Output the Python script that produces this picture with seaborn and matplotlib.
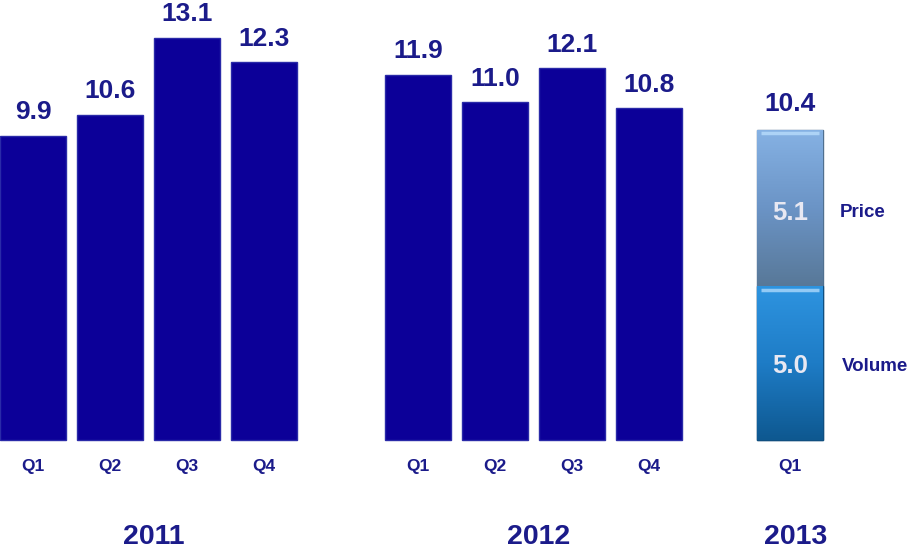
import numpy as np
import pandas as pd
import matplotlib
matplotlib.use('Agg')
import matplotlib.pyplot as plt
from matplotlib.colors import LinearSegmentedColormap
import seaborn as sns

# data
years = ['2011', '2012', '2013']
quarters = ['Q1', 'Q2', 'Q3', 'Q4']
sales_2011 = [9.9, 10.6, 13.1, 12.3]
sales_2012 = [11.9, 11.0, 12.1, 10.8]
q1_2013_volume = 5.0
q1_2013_price = 5.1
q1_2013_total_label = 10.4

# positions on the x axis (layout only)
pos_2011 = [0, 1, 2, 3]
pos_2012 = [5, 6, 7, 8]
pos_2013 = [9.83]

BAR = '#0C0098'
TXT = '#1B1B8A'

sns.set_theme(style='white')
plt.rcParams['font.family'] = ['Liberation Sans', 'DejaVu Sans']

fig = plt.figure(figsize=(9.13, 5.52), dpi=100)
ax = fig.add_axes([0, 0, 1, 1])

df = pd.DataFrame({
    'pos': pos_2011 + pos_2012,
    'value': sales_2011 + sales_2012,
    'quarter': quarters + quarters,
})
sns.barplot(data=df, x='pos', y='value', native_scale=True, width=0.85,
            color=BAR, saturation=1, edgecolor='#2A2AA8', linewidth=1, ax=ax)

# 2013 stacked bar: total first, volume drawn over it
top13 = q1_2013_volume + q1_2013_price
df13 = pd.DataFrame({'pos': pos_2013, 'total': [top13], 'volume': [q1_2013_volume]})
n_before = len(ax.patches)
sns.barplot(data=df13, x='pos', y='total', native_scale=True, width=0.85,
            color='#6B94C6', saturation=1, edgecolor='#50708F', linewidth=1, ax=ax)
sns.barplot(data=df13, x='pos', y='volume', native_scale=True, width=0.85,
            color='#1E7CC6', saturation=1, edgecolor='#0F4F80', linewidth=1, ax=ax)
price_patch, vol_patch = ax.patches[n_before], ax.patches[n_before + 1]

# gradient fill for the 2013 segments
grads = [
    (price_patch, ['#587898', '#6B94C6', '#86B2E4'], q1_2013_volume, top13),
    (vol_patch, ['#0E5890', '#1E7CC6', '#2E94E0'], 0, q1_2013_volume),
]
for patch, cols, y0, y1 in grads:
    x0 = patch.get_x()
    w = patch.get_width()
    cmap = LinearSegmentedColormap.from_list('g', cols)
    grad = np.linspace(0, 1, 256).reshape(-1, 1)
    im = ax.imshow(grad, cmap=cmap, origin='lower', aspect='auto',
                   extent=[x0, x0 + w, y0, y1], zorder=patch.get_zorder() + 0.1)
    im.set_clip_path(patch)
    # light bevel at the top edge
    ax.plot([x0 + 0.05, x0 + w - 0.05], [y1 - 0.1, y1 - 0.1],
            color='#BFE3FF', lw=2.5, alpha=0.7, zorder=patch.get_zorder() + 0.2,
            solid_capstyle='butt')

# value labels
for p, v in zip(pos_2011 + pos_2012, sales_2011 + sales_2012):
    ax.text(p, v + 0.38, f'{v:.1f}', ha='center', va='bottom',
            fontsize=19, fontweight='bold', color=TXT)
ax.text(pos_2013[0], top13 + 0.45, f'{q1_2013_total_label:.1f}', ha='center',
        va='bottom', fontsize=19, fontweight='bold', color=TXT)
price_y = q1_2013_volume + q1_2013_price / 2 - 0.15
vol_y = q1_2013_volume / 2 - 0.1
ax.text(pos_2013[0], price_y, f'{q1_2013_price:.1f}', ha='center', va='center',
        fontsize=18.5, fontweight='bold', color='#E8E8F2', zorder=5)
ax.text(pos_2013[0], vol_y, f'{q1_2013_volume:.1f}', ha='center', va='center',
        fontsize=18.5, fontweight='bold', color='#E8E8F2', zorder=5)
ax.text(10.48, price_y, 'Price', ha='left', va='center',
        fontsize=13.5, fontweight='bold', color=TXT)
ax.text(10.5, vol_y, 'Volume', ha='left', va='center',
        fontsize=13.5, fontweight='bold', color=TXT)

# quarter and year labels
for p, q in zip(pos_2011 + pos_2012 + pos_2013, quarters + quarters + ['Q1']):
    ax.text(p, -0.85, q, ha='center', va='center', fontsize=12.5,
            fontweight='bold', color=TXT)
for grp, yr in zip([pos_2011, pos_2012, pos_2013], years):
    ax.text(np.mean(grp) + 0.07, -3.15, yr, ha='center', va='center', fontsize=20.5,
            fontweight='bold', color=TXT)

ax.set_xlim(-0.43, 11.43)
ax.set_ylim(-3.65, 14.33)
ax.set_xlabel('')
ax.set_ylabel('')
ax.set_xticks([])
ax.set_yticks([])
sns.despine(ax=ax, left=True, bottom=True)

fig.savefig('out.png', dpi=100)
